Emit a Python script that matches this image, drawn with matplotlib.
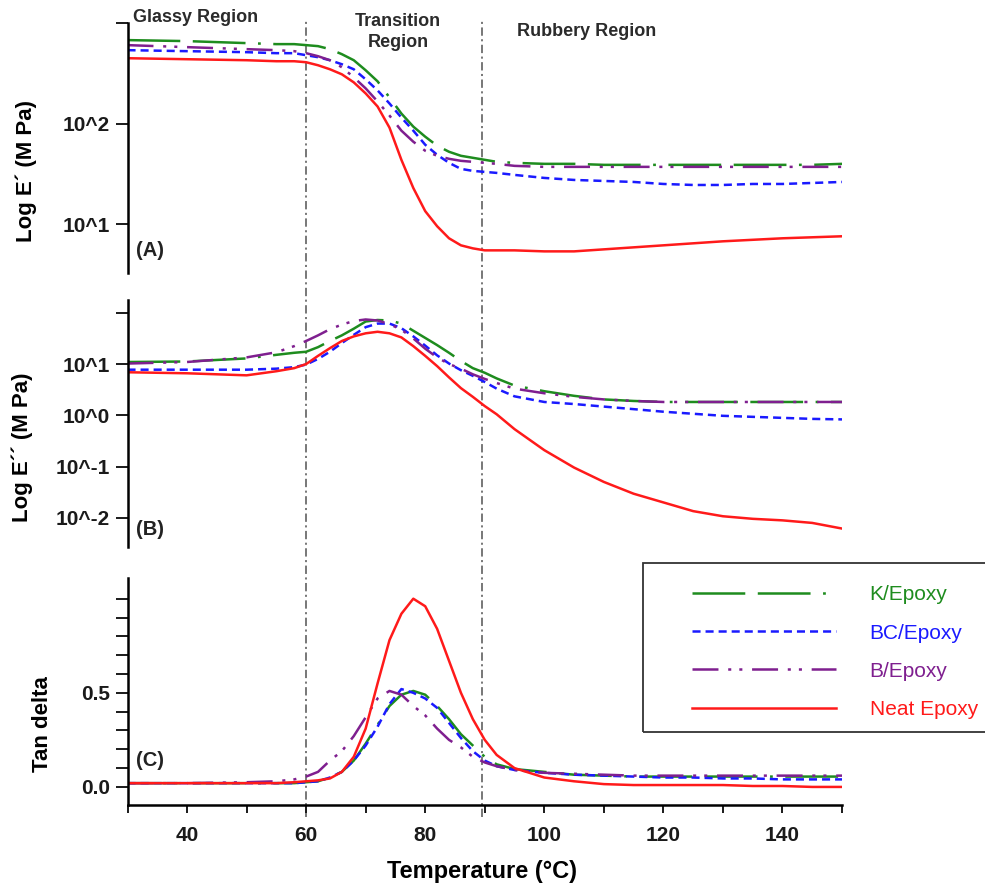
import numpy as np
import matplotlib
matplotlib.use("Agg")
import matplotlib.pyplot as plt
from matplotlib.lines import Line2D
from matplotlib.patches import Rectangle
from matplotlib.ticker import NullLocator

plt.rcParams['font.family'] = ['Liberation Sans', 'DejaVu Sans']
plt.rcParams['lines.scale_dashes'] = False

# --- Values ---
temp = [30, 40, 50, 55, 58, 60, 62, 64, 66, 68, 70, 72, 74, 76, 78, 80, 82, 84,
        86, 88, 90, 92, 95, 100, 105, 110, 115, 120, 125, 130, 135, 140, 145, 150]

series = ['K/Epoxy', 'BC/Epoxy', 'B/Epoxy', 'Neat Epoxy']

# (A) storage modulus, log10(E' / MPa)
storage_k = [2.83, 2.82, 2.80, 2.79, 2.79, 2.78, 2.77, 2.74, 2.69, 2.63, 2.53, 2.42, 2.26, 2.10, 1.97, 1.87, 1.78,
             1.72, 1.68, 1.66, 1.64, 1.62, 1.61, 1.60, 1.60, 1.59, 1.59, 1.59, 1.59, 1.59, 1.59, 1.59, 1.59, 1.60]
storage_bc = [2.73, 2.72, 2.71, 2.70, 2.70, 2.68, 2.66, 2.63, 2.59, 2.54, 2.44, 2.33, 2.20, 2.06, 1.93, 1.79, 1.69,
              1.61, 1.55, 1.53, 1.52, 1.51, 1.49, 1.46, 1.44, 1.43, 1.42, 1.40, 1.39, 1.39, 1.40, 1.40, 1.41, 1.42]
storage_b = [2.78, 2.76, 2.74, 2.73, 2.72, 2.70, 2.67, 2.63, 2.56, 2.46, 2.35, 2.22, 2.08, 1.93, 1.82, 1.73, 1.68,
             1.65, 1.63, 1.62, 1.61, 1.60, 1.58, 1.57, 1.57, 1.57, 1.57, 1.57, 1.57, 1.57, 1.57, 1.57, 1.57, 1.57]
storage_neat = [2.65, 2.64, 2.63, 2.62, 2.62, 2.61, 2.58, 2.54, 2.49, 2.41, 2.30, 2.17, 1.96, 1.64, 1.36, 1.13, 0.98,
                0.86, 0.79, 0.76, 0.74, 0.74, 0.74, 0.73, 0.73, 0.75, 0.77, 0.79, 0.81, 0.83, 0.845, 0.86, 0.87, 0.88]

# (B) loss modulus, log10(E'' / MPa)
loss_k = [1.04, 1.05, 1.11, 1.18, 1.22, 1.24, 1.33, 1.45, 1.56, 1.69, 1.83, 1.86, 1.85, 1.79, 1.65, 1.51, 1.37,
          1.22, 1.06, 0.92, 0.83, 0.72, 0.58, 0.47, 0.38, 0.31, 0.28, 0.26, 0.26, 0.26, 0.26, 0.26, 0.26, 0.26]
loss_bc = [0.89, 0.89, 0.89, 0.91, 0.94, 0.99, 1.10, 1.24, 1.41, 1.57, 1.72, 1.79, 1.79, 1.70, 1.54, 1.36, 1.17,
           1.01, 0.88, 0.77, 0.65, 0.52, 0.37, 0.26, 0.22, 0.17, 0.12, 0.07, 0.03, -0.01, -0.03, -0.05, -0.07, -0.08]
loss_b = [1.01, 1.04, 1.13, 1.23, 1.35, 1.45, 1.56, 1.68, 1.77, 1.84, 1.87, 1.85, 1.78, 1.67, 1.50, 1.30, 1.13,
          1.00, 0.91, 0.80, 0.71, 0.63, 0.52, 0.43, 0.36, 0.31, 0.28, 0.26, 0.26, 0.26, 0.26, 0.26, 0.26, 0.26]
loss_neat = [0.84, 0.82, 0.78, 0.86, 0.92, 1.00, 1.16, 1.31, 1.45, 1.54, 1.60, 1.63, 1.60, 1.52, 1.35, 1.16, 0.96,
             0.74, 0.53, 0.36, 0.18, 0.02, -0.27, -0.68, -1.02, -1.30, -1.53, -1.70, -1.87, -1.97, -2.02, -2.05, -2.10, -2.21]

# (C) tan delta
tan_k = [0.02, 0.02, 0.02, 0.02, 0.02, 0.025, 0.03, 0.05, 0.08, 0.14, 0.23, 0.33, 0.43, 0.49, 0.51, 0.49, 0.43,
         0.36, 0.28, 0.22, 0.16, 0.12, 0.095, 0.08, 0.065, 0.06, 0.055, 0.055, 0.055, 0.055, 0.055, 0.055, 0.055, 0.055]
tan_bc = [0.02, 0.02, 0.02, 0.02, 0.02, 0.025, 0.03, 0.05, 0.08, 0.14, 0.22, 0.32, 0.44, 0.52, 0.50, 0.47, 0.42,
          0.34, 0.26, 0.19, 0.14, 0.11, 0.09, 0.075, 0.065, 0.06, 0.055, 0.05, 0.05, 0.045, 0.045, 0.04, 0.04, 0.04]
tan_b = [0.02, 0.02, 0.025, 0.03, 0.04, 0.055, 0.08, 0.14, 0.19, 0.27, 0.37, 0.47, 0.51, 0.49, 0.43, 0.38, 0.31,
         0.25, 0.21, 0.16, 0.13, 0.11, 0.09, 0.075, 0.07, 0.065, 0.06, 0.06, 0.06, 0.06, 0.06, 0.06, 0.06, 0.06]
tan_neat = [0.02, 0.02, 0.02, 0.02, 0.025, 0.03, 0.035, 0.045, 0.08, 0.16, 0.31, 0.55, 0.78, 0.92, 1.00, 0.96, 0.84,
            0.67, 0.50, 0.36, 0.25, 0.17, 0.10, 0.05, 0.03, 0.015, 0.01, 0.01, 0.01, 0.01, 0.005, 0.005, 0.0, 0.0]

region_bounds = [60, 89.5]

# --- Line styles ---
styles = {
    'K/Epoxy': dict(color='#1e8c1e', dashes=[38, 9, 38, 9, 2, 9]),
    'BC/Epoxy': dict(color='#1a1aff', dashes=[5.8, 3.6]),
    'B/Epoxy': dict(color='#7f1f8f', dashes=[18.7, 7, 2.2, 5.8, 2.2, 7]),
    'Neat Epoxy': dict(color='#ff1a1a'),
}
LW = 1.8

W, H = 985, 884
fig = plt.figure(figsize=(W / 100, H / 100), dpi=100)


def box(x0, y0, x1, y1):
    # pixel box (top-left origin) -> figure fraction rect
    return [x0 / W, 1 - y1 / H, (x1 - x0) / W, (y1 - y0) / H]


ax_v = fig.add_axes(box(127.5, 20, 842, 817))
ax_a = fig.add_axes(box(127.5, 23, 842, 273))
ax_b = fig.add_axes(box(127.5, 300, 842, 547))
ax_c = fig.add_axes(box(127.5, 578, 842, 805))

# region boundaries drawn once across the whole stack
ax_v.set_xlim(30, 150)
ax_v.set_ylim(0, 1)
for xb in region_bounds:
    ax_v.axvline(xb, color='#606060', lw=1.2, dashes=[6, 2.5, 1.5, 2.5])
ax_v.axis('off')

t = np.array(temp)
panels = [
    (ax_a, [storage_k, storage_bc, storage_b, storage_neat], True),
    (ax_b, [loss_k, loss_bc, loss_b, loss_neat], True),
    (ax_c, [tan_k, tan_bc, tan_b, tan_neat], False),
]
for ax, data, is_log in panels:
    for name, vals in zip(series, data):
        y = 10 ** np.array(vals) if is_log else np.array(vals)
        ax.plot(t, y, lw=LW, label=name, **styles[name])
    ax.set_xlim(30, 150)
    ax.patch.set_visible(False)
    ax.spines[['top', 'right']].set_visible(False)
    ax.spines['left'].set_linewidth(1.8)
    ax.tick_params(axis='y', length=8.5, width=1.4, pad=4, colors='#1a1a1a')

for ax in (ax_a, ax_b):
    ax.spines['bottom'].set_visible(False)
    ax.tick_params(axis='x', bottom=False, labelbottom=False)

tick_font = dict(fontsize=15, fontweight='bold')

ax_a.set_yscale('log')
ax_a.set_ylim(10 ** 0.515, 10 ** 3)
ax_a.set_yticks([10, 100, 1000], ['10^1', '10^2', ''], **tick_font)
ax_a.yaxis.set_minor_locator(NullLocator())

ax_b.set_yscale('log')
ax_b.set_ylim(10 ** -2.57, 10 ** 2.25)
ax_b.set_yticks([0.01, 0.1, 1, 10, 100], ['10^-2', '10^-1', '10^0', '10^1', ''], **tick_font)
ax_b.yaxis.set_minor_locator(NullLocator())

ax_c.set_ylim(-0.096, 1.11)
c_ticks = np.round(np.arange(0, 1.01, 0.1), 1)
ax_c.set_yticks(c_ticks, ['0.0' if v == 0 else '0.5' if v == 0.5 else '' for v in c_ticks], **tick_font)
ax_c.spines['bottom'].set_linewidth(1.8)
x_ticks = list(range(30, 151, 10))
ax_c.set_xticks(x_ticks, [str(v) if v % 20 == 0 and 30 < v < 150 else '' for v in x_ticks], **tick_font)
ax_c.tick_params(axis='x', length=6, width=1.4, pad=9, colors='#1a1a1a')

label_font = dict(fontsize=16, fontweight='bold')
ax_a.set_ylabel('Log E\u00b4 (M Pa)', **label_font)
ax_a.yaxis.set_label_coords(-0.127, 0.41)
ax_b.set_ylabel('Log E\u00b4\u00b4 (M Pa)', **label_font)
ax_b.yaxis.set_label_coords(-0.132, 0.405)
ax_c.set_ylabel('Tan delta', **label_font)
ax_c.yaxis.set_label_coords(-0.104, 0.357)
ax_c.set_xlabel('Temperature (\u00b0C)', fontsize=17, fontweight='bold')
ax_c.xaxis.set_label_coords(0.496, -0.242)

# panel tags
for ax, tag, yy in ((ax_a, '(A)', 0.092), (ax_b, '(B)', 0.069), (ax_c, '(C)', 0.194)):
    ax.text(0.012, yy, tag, transform=ax.transAxes, fontsize=14.5, fontweight='bold',
            va='center', ha='left', color='#222222')

# region names
region_font = dict(fontsize=13, fontweight='bold', color='#2b2b2b')
fig.text(133 / W, 1 - 18 / H, 'Glassy Region', ha='left', va='center', **region_font)
fig.text(398 / W, 1 - 32 / H, 'Transition\nRegion', ha='center', va='center', linespacing=1.3, **region_font)
fig.text(517 / W, 1 - 31 / H, 'Rubbery Region', ha='left', va='center', **region_font)

# legend: frame runs off the right edge as in the source
fig.add_artist(Rectangle((643 / W, 1 - 732 / H), (1010 - 643) / W, (732 - 563) / H,
                         transform=fig.transFigure, fill=False, ec='#333333', lw=1.3, clip_on=False))
handles = [Line2D([], [], lw=LW, **styles[n]) for n in series]
fig.legend(handles, series, loc='upper left', bbox_to_anchor=(682 / W, 1 - 575 / H), frameon=False,
           fontsize=15, handlelength=6.9, handletextpad=1.6, labelspacing=0.92, borderpad=0,
           labelcolor='linecolor')

fig.savefig('out.png', dpi=100)
